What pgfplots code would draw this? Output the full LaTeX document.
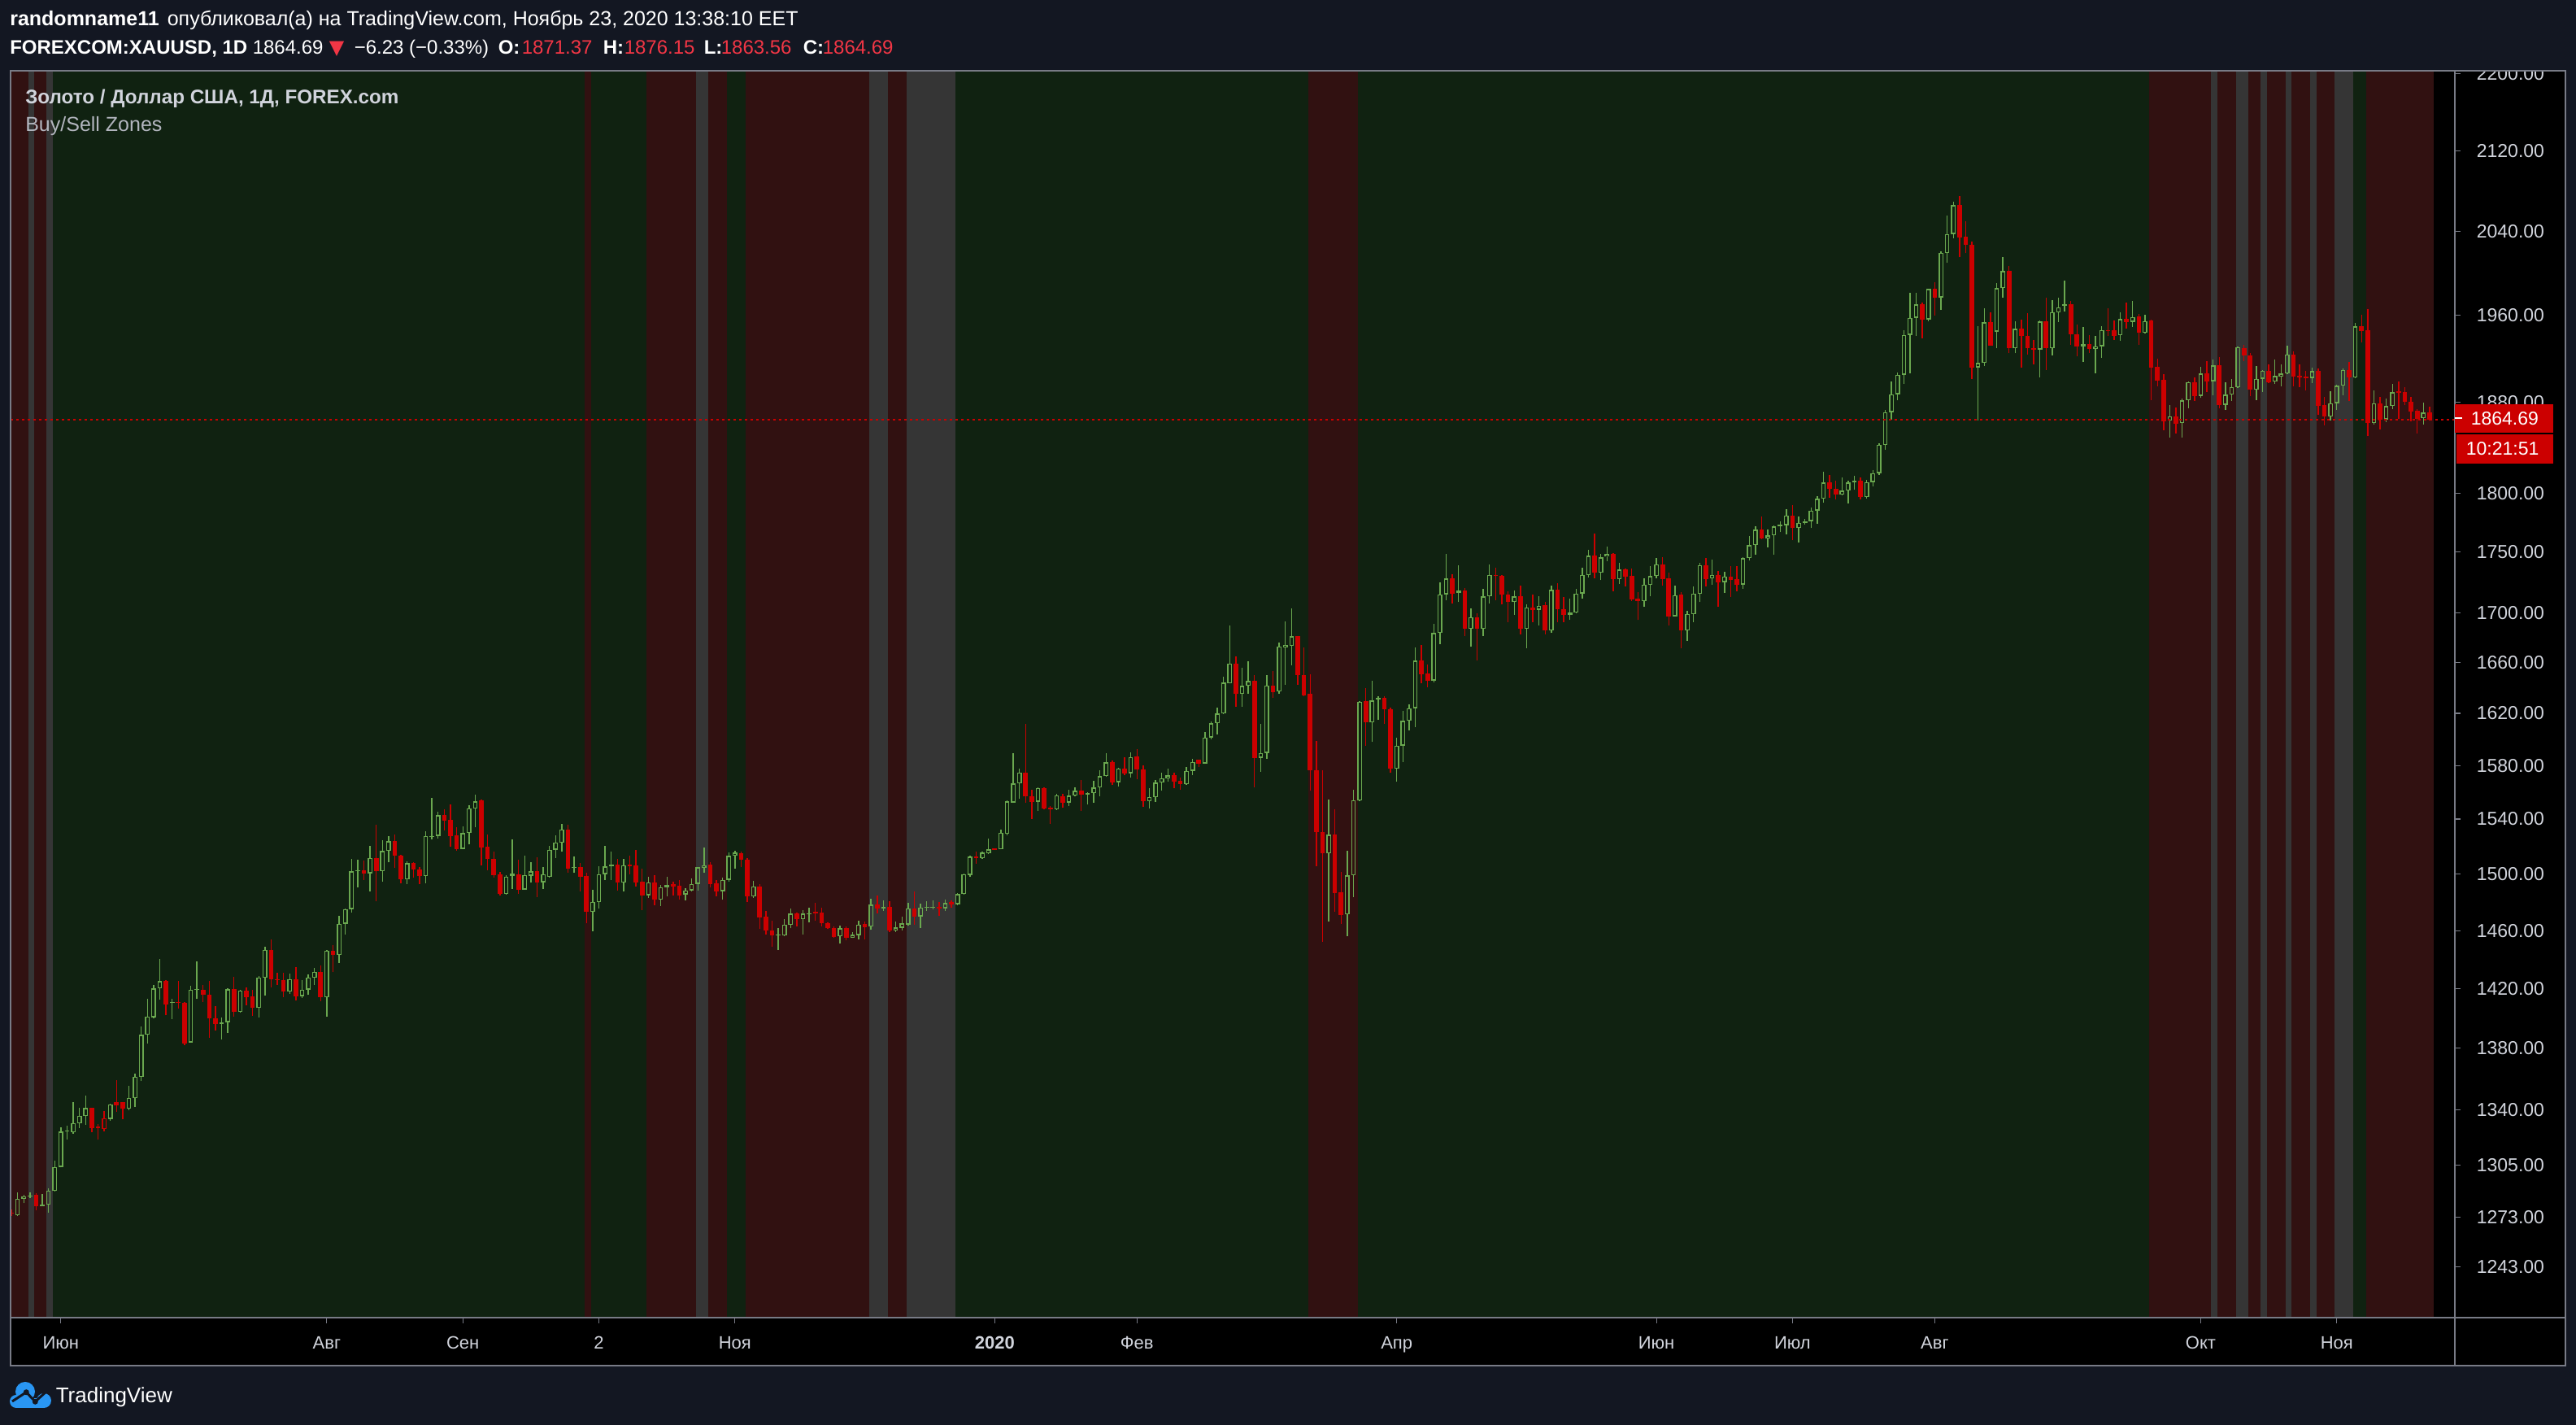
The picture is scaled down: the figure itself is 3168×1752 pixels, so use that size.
\documentclass[border=0pt]{standalone}
\usepackage{fontspec}
\setmainfont{Liberation Sans}
\newfontfamily\dejavu{DejaVu Sans}
\usepackage{pgfplots}
\usepackage{pgfplotstable}
\pgfplotsset{compat=1.18}
\definecolor{bgnavy}{RGB}{19,23,34}
\definecolor{zg}{RGB}{16,34,17}
\definecolor{zr}{RGB}{49,17,17}
\definecolor{zy}{RGB}{53,53,53}
\definecolor{cg}{RGB}{106,168,79}
\definecolor{cr}{RGB}{204,0,0}
\definecolor{frame}{RGB}{120,123,134}
\definecolor{txt}{RGB}{209,212,220}
\definecolor{txt2}{RGB}{178,181,190}
\definecolor{hred}{RGB}{242,54,69}
\definecolor{tvblue}{RGB}{41,150,243}

\pgfplotstableread{
i O H L C c z
0 1275.6 1277.6 1273.4 1274.9 0 1
1 1273.9 1288.0 1273.4 1284.1 1 1
2 1284.1 1286.3 1281.4 1285.6 1 1
3 1285.3 1288.0 1284.6 1286.0 1 2
4 1286.3 1287.7 1277.0 1279.3 0 1
5 1280.6 1286.8 1279.3 1279.6 1 1
6 1280.5 1290.3 1275.7 1289.0 1 2
7 1289.0 1307.8 1288.5 1303.8 1 0
8 1303.8 1328.9 1303.5 1326.1 1 0
9 1326.1 1329.8 1321.0 1326.6 1 0
10 1325.7 1345.1 1324.8 1331.3 1 0
11 1331.3 1341.0 1328.2 1336.0 1 0
12 1336.0 1349.0 1330.4 1341.0 1 0
13 1341.2 1341.5 1325.7 1328.5 0 0
14 1328.9 1330.7 1320.8 1328.2 0 0
15 1327.6 1339.4 1326.3 1334.7 0 0
16 1334.1 1344.0 1333.0 1343.4 1 0
17 1344.7 1359.4 1338.8 1342.8 0 0
18 1344.7 1345.0 1333.7 1340.6 0 0
19 1340.6 1355.6 1339.7 1347.5 1 0
20 1347.5 1363.5 1342.0 1361.2 1 0
21 1361.2 1394.6 1358.4 1389.0 1 0
22 1389.0 1412.9 1383.2 1401.1 1 0
23 1400.7 1422.7 1400.0 1420.2 1 0
24 1420.2 1440.5 1412.3 1425.1 1 0
25 1425.1 1425.5 1402.0 1409.4 0 0
26 1410.1 1413.3 1399.4 1410.6 1 0
27 1411.0 1425.1 1406.2 1410.2 0 0
28 1410.5 1410.6 1382.2 1383.2 0 0
29 1383.7 1421.9 1383.7 1419.2 1 0
30 1419.0 1438.6 1412.9 1419.4 1 0
31 1419.2 1422.5 1410.8 1415.7 0 0
32 1415.9 1425.1 1387.0 1399.7 0 0
33 1400.1 1408.3 1391.9 1396.2 0 0
34 1396.2 1400.7 1386.0 1397.0 1 0
35 1397.4 1420.0 1390.4 1419.6 1 0
36 1419.6 1428.1 1401.2 1404.1 0 0
37 1404.1 1419.0 1403.5 1418.8 1 0
38 1418.8 1420.8 1408.5 1414.3 0 0
39 1414.9 1419.2 1401.6 1406.9 0 0
40 1406.9 1428.7 1400.7 1427.5 1 0
41 1427.5 1448.7 1415.1 1446.7 1 0
42 1446.7 1454.0 1420.8 1426.1 0 0
43 1426.5 1430.7 1422.7 1425.7 0 0
44 1425.9 1430.7 1414.3 1417.8 0 0
45 1417.8 1430.1 1416.6 1426.3 1 0
46 1426.3 1434.7 1411.8 1414.9 0 0
47 1414.9 1425.9 1413.7 1419.2 1 0
48 1419.2 1429.9 1415.7 1427.5 1 0
49 1427.5 1434.1 1422.7 1431.5 1 0
50 1431.5 1435.5 1411.4 1414.1 0 0
51 1414.1 1446.7 1401.1 1446.1 1 0
52 1445.9 1449.9 1431.1 1443.1 0 0
53 1443.1 1470.4 1437.5 1464.7 1 0
54 1464.7 1475.5 1457.2 1475.1 1 0
55 1475.1 1511.2 1472.9 1502.0 1 0
56 1502.0 1510.4 1490.3 1502.6 1 0
57 1502.8 1509.7 1495.7 1500.7 0 0
58 1500.7 1520.4 1487.8 1511.8 1 0
59 1511.8 1535.8 1480.4 1502.0 0 0
60 1502.0 1524.5 1494.5 1516.7 1 0
61 1516.7 1527.7 1508.3 1523.9 1 0
62 1523.9 1528.7 1504.5 1513.3 0 0
63 1513.3 1514.0 1493.6 1496.1 0 0
64 1496.1 1509.1 1493.0 1507.8 1 0
65 1507.8 1508.5 1497.2 1503.2 0 0
66 1503.2 1505.1 1493.0 1498.6 0 0
67 1498.6 1530.9 1493.6 1527.7 1 0
68 1526.8 1555.9 1525.3 1527.6 1 0
69 1527.6 1545.4 1525.8 1543.0 1 0
70 1543.0 1547.4 1531.8 1539.0 0 0
71 1539.4 1551.0 1519.9 1527.6 0 0
72 1527.8 1534.0 1516.9 1518.1 0 0
73 1518.1 1534.8 1518.0 1529.8 1 0
74 1529.8 1550.4 1521.5 1547.8 1 0
75 1547.8 1557.9 1534.0 1553.3 1 0
76 1553.9 1554.5 1506.3 1519.3 0 0
77 1519.9 1528.8 1502.9 1510.7 0 0
78 1511.1 1516.4 1497.4 1499.3 0 0
79 1499.9 1501.7 1485.0 1485.8 0 0
80 1485.8 1499.0 1485.4 1498.3 1 0
81 1500.3 1525.1 1489.6 1498.4 1 0
82 1499.9 1510.1 1486.0 1488.9 0 0
83 1488.9 1513.2 1488.9 1499.3 1 0
84 1498.9 1508.4 1493.7 1501.9 1 0
85 1502.3 1512.4 1483.5 1494.1 0 0
86 1494.1 1505.3 1489.3 1499.9 1 0
87 1497.9 1520.5 1497.5 1517.5 1 0
88 1517.5 1527.8 1511.7 1522.9 1 0
89 1522.5 1536.4 1516.0 1532.4 1 0
90 1532.4 1536.0 1500.9 1504.2 0 0
91 1504.4 1512.8 1500.9 1505.2 1 0
92 1505.2 1507.8 1487.4 1498.3 0 0
93 1498.9 1500.9 1464.9 1473.0 0 1
94 1473.0 1488.5 1459.7 1480.1 1 0
95 1480.1 1505.9 1475.2 1499.9 1 0
96 1499.9 1520.5 1496.0 1505.5 1 0
97 1505.5 1516.2 1496.0 1506.9 1 0
98 1506.9 1510.7 1488.3 1493.7 0 0
99 1493.7 1510.7 1487.4 1506.3 1 0
100 1506.7 1513.2 1499.9 1505.9 0 0
101 1506.3 1517.5 1491.2 1494.1 0 0
102 1494.7 1503.9 1474.4 1484.8 0 0
103 1484.8 1497.9 1483.1 1494.1 1 1
104 1494.1 1499.3 1477.8 1481.6 0 1
105 1481.6 1492.2 1477.4 1490.6 1 1
106 1490.6 1497.9 1483.9 1492.0 1 1
107 1492.6 1494.7 1484.8 1491.2 0 1
108 1491.6 1495.5 1482.0 1484.8 0 1
109 1485.4 1489.9 1481.0 1488.3 1 1
110 1488.3 1497.0 1487.9 1493.1 1 1
111 1493.1 1505.0 1488.3 1504.9 1 2
112 1504.3 1518.9 1501.3 1506.3 1 2
113 1506.5 1508.8 1490.2 1493.1 0 1
114 1493.5 1495.6 1483.9 1487.9 0 1
115 1487.9 1497.4 1481.6 1496.0 1 1
116 1496.0 1515.3 1494.4 1513.2 1 0
117 1513.2 1517.1 1503.9 1515.3 1 0
118 1515.1 1516.0 1504.9 1510.3 0 0
119 1510.5 1511.7 1480.1 1483.9 0 1
120 1483.9 1495.1 1483.1 1491.2 1 1
121 1491.2 1493.1 1461.0 1469.2 0 1
122 1469.5 1473.9 1457.3 1459.9 0 1
123 1460.2 1466.9 1448.7 1456.5 0 1
124 1456.5 1461.6 1446.4 1457.3 1 1
125 1456.5 1468.2 1456.0 1464.0 1 1
126 1464.0 1475.4 1461.6 1472.0 1 1
127 1472.0 1472.5 1462.9 1467.8 0 1
128 1467.8 1474.3 1457.3 1472.0 1 1
129 1471.2 1475.8 1465.7 1472.2 1 1
130 1473.0 1479.3 1466.7 1471.8 0 1
131 1472.4 1475.8 1462.9 1465.0 0 1
132 1465.0 1465.5 1461.0 1461.6 0 1
133 1462.0 1463.0 1454.7 1455.6 0 1
134 1456.0 1463.5 1450.7 1461.6 1 1
135 1462.0 1463.0 1453.0 1455.0 0 1
136 1455.0 1459.0 1454.8 1457.0 1 1
137 1456.7 1467.0 1453.8 1464.2 1 1
138 1464.6 1466.1 1453.8 1462.3 0 1
139 1462.7 1482.3 1460.4 1478.1 1 2
140 1478.1 1484.6 1471.8 1475.2 0 2
141 1475.2 1481.3 1473.7 1476.5 1 2
142 1476.5 1480.8 1458.9 1460.0 0 1
143 1460.0 1466.1 1458.9 1462.3 1 1
144 1462.0 1469.9 1460.0 1465.1 1 1
145 1464.2 1479.4 1463.3 1475.6 1 2
146 1475.6 1487.5 1464.2 1469.9 0 2
147 1469.9 1478.9 1461.9 1476.0 1 2
148 1476.0 1480.8 1473.7 1476.6 1 2
149 1476.0 1481.0 1475.0 1476.8 1 2
150 1476.2 1479.9 1470.3 1475.6 0 2
151 1475.6 1481.9 1473.7 1479.4 1 2
152 1479.8 1481.3 1476.0 1478.5 0 2
153 1478.5 1486.5 1478.0 1485.6 1 0
154 1485.6 1500.7 1485.2 1499.8 1 0
155 1499.3 1513.5 1497.9 1512.5 1 0
156 1512.5 1516.4 1507.6 1511.3 0 0
157 1511.3 1516.4 1511.0 1515.4 1 0
158 1514.8 1525.9 1514.5 1518.0 1 0
159 1518.4 1518.8 1517.2 1517.4 0 0
160 1518.0 1532.3 1517.8 1529.9 1 0
161 1529.3 1553.9 1528.3 1553.3 1 0
162 1552.3 1589.4 1552.0 1566.4 1 0
163 1566.4 1577.7 1555.3 1574.6 1 0
164 1574.6 1611.8 1552.3 1556.7 0 0
165 1556.7 1561.8 1540.2 1552.9 0 0
166 1552.9 1563.8 1546.2 1563.0 1 0
167 1563.0 1563.4 1547.0 1547.8 0 0
168 1548.6 1549.6 1536.3 1547.0 0 0
169 1547.0 1558.7 1546.8 1557.7 1 0
170 1556.9 1558.7 1548.2 1552.3 0 0
171 1552.3 1561.8 1549.8 1557.3 1 0
172 1557.3 1563.4 1556.7 1561.0 1 0
173 1561.0 1569.1 1546.2 1558.3 0 0
174 1558.3 1559.8 1550.7 1559.6 1 0
175 1559.4 1568.5 1552.3 1563.4 1 0
176 1563.4 1576.2 1556.7 1571.9 1 0
177 1571.9 1589.4 1571.5 1582.4 1 0
178 1582.4 1583.8 1565.4 1567.5 0 0
179 1567.5 1578.3 1564.2 1577.7 1 0
180 1577.7 1586.3 1572.5 1574.2 0 0
181 1574.2 1590.0 1571.1 1586.5 1 0
182 1586.9 1592.5 1569.5 1576.7 0 0
183 1577.1 1580.1 1549.3 1553.3 0 0
184 1553.3 1562.8 1547.8 1556.3 1 0
185 1556.3 1569.1 1552.9 1567.1 1 0
186 1567.1 1574.6 1561.0 1570.6 1 0
187 1570.6 1577.5 1568.1 1572.5 1 0
188 1572.5 1574.6 1562.8 1568.1 0 0
189 1568.5 1571.0 1561.8 1566.0 0 0
190 1566.0 1578.7 1565.4 1576.0 1 0
191 1576.0 1584.9 1573.0 1582.8 1 0
192 1584.3 1584.6 1579.1 1581.6 0 0
193 1581.6 1605.6 1581.3 1601.4 1 0
194 1601.4 1613.9 1599.8 1612.2 1 0
195 1612.2 1624.4 1603.9 1619.8 1 0
196 1619.8 1648.6 1619.5 1643.9 1 0
197 1643.5 1689.4 1643.2 1659.1 1 0
198 1659.1 1664.5 1625.0 1635.0 0 0
199 1635.0 1655.6 1625.0 1641.4 1 0
200 1641.4 1660.6 1635.4 1645.2 1 0
201 1645.2 1649.9 1563.4 1585.9 0 0
202 1585.9 1611.8 1575.4 1589.4 1 0
203 1589.6 1649.9 1585.3 1641.5 1 0
204 1641.5 1653.0 1632.3 1636.8 0 0
205 1636.9 1675.4 1635.5 1672.5 1 0
206 1672.0 1693.0 1642.5 1673.9 1 0
207 1673.3 1703.6 1657.7 1680.8 1 0
208 1680.8 1681.3 1642.0 1650.0 0 0
209 1650.0 1671.8 1633.2 1633.7 0 0
210 1635.1 1650.7 1561.0 1576.5 0 1
211 1576.5 1598.9 1505.6 1530.3 0 1
212 1530.3 1576.5 1452.3 1514.8 0 1
213 1514.8 1554.7 1466.3 1528.6 1 1
214 1528.6 1547.3 1473.4 1486.5 0 1
215 1487.1 1501.4 1464.6 1470.9 0 1
216 1471.3 1517.0 1455.9 1499.2 1 1
217 1499.2 1562.0 1483.4 1553.9 1 1
218 1553.9 1629.5 1553.2 1629.1 1 0
219 1629.5 1639.6 1594.9 1613.0 0 0
220 1613.0 1645.3 1597.8 1630.0 1 0
221 1630.5 1633.2 1614.9 1632.0 1 0
222 1632.1 1633.2 1612.1 1623.3 0 0
223 1623.3 1624.4 1574.3 1577.6 0 0
224 1577.6 1601.3 1567.6 1595.2 1 0
225 1595.2 1621.7 1582.8 1614.1 1 0
226 1614.1 1626.8 1606.9 1624.0 1 0
227 1624.0 1671.8 1609.6 1661.2 1 0
228 1661.7 1673.7 1643.3 1650.7 0 0
229 1651.4 1658.2 1640.2 1645.5 0 0
230 1645.5 1690.9 1644.1 1683.4 1 0
231 1683.4 1724.8 1674.9 1715.0 1 0
232 1715.0 1748.5 1710.1 1728.0 1 0
233 1728.0 1731.6 1707.7 1715.7 0 0
234 1716.2 1739.1 1708.4 1717.9 1 0
235 1717.9 1720.3 1680.8 1686.7 0 0
236 1686.7 1703.6 1672.2 1696.4 1 0
237 1696.4 1699.3 1661.2 1686.7 0 0
238 1686.7 1719.1 1680.8 1713.3 1 0
239 1713.3 1739.3 1707.7 1730.8 1 0
240 1730.8 1736.9 1710.1 1729.9 0 0
241 1730.3 1730.6 1706.5 1714.5 0 0
242 1715.0 1717.4 1692.1 1708.4 0 0
243 1708.4 1718.1 1698.1 1713.3 1 0
244 1713.3 1722.3 1682.5 1686.7 0 0
245 1686.7 1706.5 1671.2 1704.1 1 0
246 1704.1 1715.0 1692.1 1702.1 0 0
247 1702.4 1713.3 1689.7 1705.8 1 0
248 1706.0 1709.0 1682.5 1685.3 0 0
249 1685.3 1722.3 1683.7 1718.6 1 0
250 1718.6 1724.0 1692.1 1702.5 0 0
251 1702.5 1712.6 1692.1 1698.1 0 0
252 1698.1 1711.4 1694.0 1699.8 1 0
253 1699.8 1719.1 1699.3 1715.7 1 0
254 1715.7 1736.9 1711.4 1730.8 1 0
255 1730.8 1751.8 1728.8 1746.8 1 0
256 1746.8 1765.4 1727.9 1732.8 0 0
257 1732.8 1748.5 1726.5 1745.6 1 0
258 1746.1 1754.7 1742.6 1748.1 1 0
259 1748.5 1748.8 1717.4 1727.2 0 0
260 1727.2 1741.1 1723.6 1735.3 1 0
261 1735.3 1736.3 1721.2 1729.6 0 0
262 1730.1 1736.3 1709.4 1710.9 0 0
263 1711.4 1716.7 1694.0 1709.4 0 0
264 1709.4 1728.4 1704.6 1722.8 1 0
265 1722.8 1738.1 1713.3 1730.1 1 0
266 1730.1 1744.8 1727.9 1739.9 1 0
267 1739.9 1745.6 1722.3 1727.7 0 0
268 1727.9 1732.8 1689.2 1696.9 0 0
269 1696.9 1721.9 1696.5 1714.3 1 0
270 1715.0 1716.7 1671.2 1685.3 0 0
271 1685.3 1701.2 1677.3 1698.8 1 0
272 1698.8 1721.7 1692.5 1715.5 1 0
273 1715.5 1741.1 1708.5 1739.2 1 0
274 1739.0 1745.0 1721.4 1727.6 0 0
275 1728.2 1743.6 1722.7 1730.8 1 0
276 1730.8 1734.3 1704.4 1725.0 0 0
277 1725.0 1733.8 1716.4 1729.7 1 0
278 1729.7 1738.3 1713.0 1727.1 0 0
279 1727.6 1738.3 1717.4 1723.0 0 0
280 1723.0 1745.8 1719.5 1745.0 1 0
281 1745.0 1763.4 1742.8 1755.7 1 0
282 1755.7 1772.0 1747.6 1768.7 1 0
283 1768.7 1780.2 1760.8 1761.2 0 0
284 1761.2 1768.7 1754.3 1763.9 1 0
285 1763.9 1772.6 1747.6 1771.5 1 0
286 1772.0 1776.1 1766.6 1773.4 1 0
287 1772.8 1786.5 1764.7 1781.0 1 0
288 1781.0 1789.8 1759.8 1770.1 0 0
289 1770.1 1780.2 1757.9 1774.8 1 0
290 1774.8 1778.0 1773.4 1776.1 1 0
291 1776.1 1787.9 1770.1 1785.1 1 0
292 1785.1 1797.6 1774.0 1795.3 1 0
293 1795.3 1818.4 1791.8 1809.2 1 0
294 1809.2 1816.1 1796.2 1803.6 0 0
295 1803.6 1810.6 1794.5 1798.9 0 0
296 1798.9 1813.4 1798.0 1802.2 1 0
297 1802.2 1811.1 1791.3 1809.2 1 0
298 1809.2 1814.8 1802.8 1810.6 1 0
299 1810.6 1813.4 1794.8 1796.7 0 0
300 1796.7 1811.9 1795.6 1809.7 1 0
301 1809.7 1820.4 1805.6 1817.5 1 0
302 1817.5 1843.5 1816.1 1842.1 1 0
303 1842.1 1873.0 1838.1 1871.5 1 0
304 1871.5 1899.0 1864.3 1887.4 1 0
305 1887.4 1907.3 1881.6 1905.0 1 0
306 1905.0 1946.4 1896.8 1941.9 1 0
307 1941.9 1981.2 1906.4 1957.5 1 0
308 1957.5 1981.2 1941.0 1970.5 1 0
309 1970.5 1972.0 1938.9 1956.0 0 0
310 1956.0 1985.0 1954.0 1984.8 1 0
311 1984.8 1991.3 1960.0 1976.6 0 0
312 1976.6 2020.5 1965.1 2019.2 1 0
313 2019.2 2055.7 2009.4 2037.7 1 0
314 2037.7 2069.6 2033.7 2066.0 1 0
315 2066.0 2074.8 2015.0 2034.3 0 0
316 2035.2 2050.3 2018.9 2026.8 0 0
317 2027.4 2030.6 1901.3 1911.7 0 0
318 1911.7 1950.0 1863.8 1915.8 1 0
319 1915.8 1966.6 1912.9 1953.3 1 0
320 1953.3 1962.7 1932.0 1932.2 0 0
321 1944.9 1990.4 1929.2 1985.8 1 0
322 1985.8 2015.6 1976.6 2001.7 1 0
323 2002.0 2006.6 1924.7 1929.2 0 0
324 1929.2 1954.8 1924.7 1947.3 1 0
325 1947.3 1956.0 1911.4 1940.4 0 0
326 1940.4 1962.1 1923.5 1929.2 0 0
327 1929.5 1937.5 1914.4 1928.3 0 0
328 1928.3 1955.4 1902.5 1954.5 1 0
329 1954.5 1976.6 1909.4 1929.2 0 0
330 1929.2 1974.2 1923.2 1963.0 1 0
331 1963.0 1976.6 1953.9 1967.5 1 0
332 1969.2 1992.8 1964.1 1970.5 1 0
333 1970.5 1973.5 1932.5 1942.8 0 0
334 1942.8 1951.5 1921.7 1930.9 0 0
335 1930.9 1949.4 1916.8 1933.0 1 0
336 1933.0 1941.3 1925.0 1928.6 0 0
337 1928.6 1940.4 1906.4 1931.5 1 0
338 1931.5 1950.3 1920.3 1946.4 1 0
339 1946.6 1966.7 1940.9 1945.3 0 0
340 1945.9 1955.1 1937.4 1940.9 0 0
341 1941.1 1962.8 1936.4 1956.5 1 0
342 1956.7 1972.1 1947.6 1954.2 0 0
343 1953.9 1973.6 1949.4 1958.7 1 0
344 1959.0 1961.3 1932.7 1943.5 0 0
345 1943.5 1960.5 1943.0 1954.9 1 0
346 1955.6 1956.0 1882.3 1911.8 0 1
347 1912.3 1919.7 1894.5 1899.9 0 1
348 1900.4 1905.6 1855.0 1863.3 0 1
349 1863.5 1877.9 1848.8 1867.6 1 1
350 1867.6 1875.4 1852.4 1861.1 0 1
351 1861.6 1883.5 1848.8 1881.8 1 1
352 1881.8 1898.9 1875.0 1898.2 1 1
353 1898.2 1902.6 1881.5 1885.9 0 1
354 1885.9 1912.5 1884.2 1906.1 1 1
355 1906.1 1917.5 1889.6 1898.9 0 1
356 1899.1 1919.0 1886.7 1913.5 1 2
357 1913.5 1921.0 1875.0 1877.9 0 1
358 1877.9 1898.2 1873.0 1886.9 1 1
359 1886.9 1901.1 1881.5 1893.8 1 1
360 1893.8 1931.0 1893.0 1930.4 1 2
361 1929.9 1932.9 1918.0 1922.4 0 2
362 1922.6 1925.4 1885.9 1891.3 0 1
363 1891.3 1913.0 1882.3 1901.6 1 1
364 1901.6 1909.3 1889.6 1908.6 1 2
365 1908.6 1914.7 1897.4 1898.2 0 1
366 1898.7 1919.2 1896.9 1903.9 1 1
367 1903.6 1914.7 1894.5 1906.1 1 1
368 1906.1 1931.7 1905.6 1923.9 1 2
369 1923.9 1926.6 1894.5 1903.6 0 1
370 1904.1 1914.7 1894.0 1903.1 0 1
371 1903.1 1908.6 1890.8 1902.1 0 1
372 1902.3 1911.3 1897.6 1908.1 1 2
373 1908.1 1910.6 1868.8 1876.9 0 1
374 1877.4 1884.7 1859.6 1867.6 0 1
375 1867.6 1890.1 1864.0 1879.1 1 1
376 1879.1 1895.7 1873.2 1895.2 1 2
377 1895.2 1911.1 1886.5 1909.3 1 2
378 1909.3 1916.7 1881.1 1903.1 0 2
379 1902.6 1953.1 1901.9 1949.8 1 0
380 1949.8 1960.8 1934.9 1945.1 0 0
381 1946.1 1965.9 1850.0 1861.6 0 1
382 1861.6 1890.8 1860.4 1879.1 1 1
383 1879.1 1885.2 1856.0 1864.7 0 1
384 1864.7 1883.9 1862.3 1876.7 1 1
385 1876.7 1896.5 1873.7 1889.1 1 1
386 1889.6 1899.0 1865.2 1888.6 0 1
387 1889.1 1893.8 1877.4 1880.3 0 1
388 1880.3 1884.7 1863.3 1872.0 0 1
389 1872.5 1874.2 1852.4 1865.2 0 1
390 1865.7 1879.8 1860.4 1870.8 1 1
391 1871.37 1876.15 1863.56 1864.69 0 1
}\candles

\newcommand{\zone}[3]{\addplot[draw=none,fill=#3,forget plot] coordinates {(#1,1200) (#1,2300) (#2,2300) (#2,1200)};}
\pgfplotsset{
  cbar/.style={draw=none, mark=none, forget plot,
    error bars/y dir=plus, error bars/y explicit, error bars/error mark=none},
}
\newcommand{\hfont}{\fontsize{6pt}{7pt}\selectfont}

\begin{document}
\begin{tikzpicture}[x=0.25pt,y=0.25pt]
\useasboundingbox (0,0) rectangle (3168,1752);
\fill[bgnavy] (0,0) rectangle (3168,1752);
\fill[black] (13,73) rectangle (3155,1665);
\begin{axis}[
  at={(3.25pt,33pt)}, anchor=south west,
  scale only axis, width=751.5pt, height=383.25pt,
  xmin=-0.13, xmax=395.1,
  ymode=log, ymin=1213.2, ymax=2203.4,
  axis background/.style={fill=black},
  axis on top,
  axis line style={draw=frame, line width=0.5pt},
  xtick={8,51,73,95,117,159,182,224,266,288,311,354,376},
  xticklabels={Июн,Авг,Сен,2,Ноя,\textbf{2020},Фев,Апр,Июн,Июл,Авг,Окт,Ноя},
  ytick={1243,1273,1305,1340,1380,1420,1460,1500,1540,1580,1620,1660,1700,1750,1800,1880,1960,2040,2120,2200},
  yticklabels={1243.00,1273.00,1305.00,1340.00,1380.00,1420.00,1460.00,1500.00,1540.00,1580.00,1620.00,1660.00,1700.00,1750.00,1800.00,1880.00,1960.00,2040.00,2120.00,2200.00},
  xtick pos=bottom, ytick pos=right, yticklabel pos=right,
  tick align=outside, major tick length=1.75pt,
  yminorticks=false, xminorticks=false,
  tick style={draw=frame, line width=0.3pt},
  x tick label style={font=\fontsize{5.5pt}{6.5pt}\selectfont, text=txt, anchor=base, inner sep=0pt, yshift=-8pt},
  y tick label style={font=\fontsize{5.75pt}{6.75pt}\selectfont, text=txt, anchor=west, inner sep=0pt, xshift=4.75pt},
  clip=true,
]
% zones
\zone{-0.3}{391.7}{zg}
\zone{-0.3}{2.7}{zr}
\zone{3.7}{5.7}{zr}
\zone{92.7}{93.7}{zr}
\zone{102.7}{110.7}{zr}
\zone{112.7}{115.7}{zr}
\zone{118.7}{138.7}{zr}
\zone{141.7}{144.7}{zr}
\zone{209.7}{217.7}{zr}
\zone{345.7}{355.7}{zr}
\zone{356.7}{359.7}{zr}
\zone{361.7}{363.7}{zr}
\zone{364.7}{367.7}{zr}
\zone{368.7}{371.7}{zr}
\zone{372.7}{375.7}{zr}
\zone{380.7}{391.7}{zr}
\zone{2.7}{3.7}{zy}
\zone{5.7}{6.7}{zy}
\zone{110.7}{112.7}{zy}
\zone{138.7}{141.7}{zy}
\zone{144.7}{152.7}{zy}
\zone{355.7}{356.7}{zy}
\zone{359.7}{361.7}{zy}
\zone{363.7}{364.7}{zy}
\zone{367.7}{368.7}{zy}
\zone{371.7}{372.7}{zy}
\zone{375.7}{378.7}{zy}
% wicks
\addplot[cbar, error bars/error bar style={draw=cg, line width=0.35pt},
  restrict expr to domain={\thisrow{c}}{0.5:1.5}]
  table[x=i, y=L, y error plus expr={\thisrow{H}-\thisrow{L}}]{\candles};
\addplot[cbar, error bars/error bar style={draw=cr, line width=0.35pt},
  restrict expr to domain={\thisrow{c}}{-0.5:0.5}]
  table[x=i, y=L, y error plus expr={\thisrow{H}-\thisrow{L}}]{\candles};
% bodies
\addplot[cbar, error bars/error bar style={draw=cg, line width=1.425pt},
  restrict expr to domain={\thisrow{c}}{0.5:1.5}]
  table[x=i, y expr={min(\thisrow{O},\thisrow{C})},
        y error plus expr={max(abs(\thisrow{C}-\thisrow{O}),0.0006*\thisrow{O})}]{\candles};
\addplot[cbar, error bars/error bar style={draw=cr, line width=1.425pt},
  restrict expr to domain={\thisrow{c}}{-0.5:0.5}]
  table[x=i, y expr={min(\thisrow{O},\thisrow{C})},
        y error plus expr={max(abs(\thisrow{C}-\thisrow{O}),0.0006*\thisrow{O})}]{\candles};
% hollow interiors
\addplot[cbar, error bars/error bar style={draw=zg, line width=0.75pt},
  restrict expr to domain={\thisrow{z}*10+(\thisrow{C}>\thisrow{O})}{0.5:1.5}]
  table[x=i, y expr={min(\thisrow{O},\thisrow{C})*1.00055},
        y error plus expr={max(max(\thisrow{O},\thisrow{C})/1.00055-min(\thisrow{O},\thisrow{C})*1.00055,0)}]{\candles};
\addplot[cbar, error bars/error bar style={draw=zr, line width=0.75pt},
  restrict expr to domain={\thisrow{z}*10+(\thisrow{C}>\thisrow{O})}{10.5:11.5}]
  table[x=i, y expr={min(\thisrow{O},\thisrow{C})*1.00055},
        y error plus expr={max(max(\thisrow{O},\thisrow{C})/1.00055-min(\thisrow{O},\thisrow{C})*1.00055,0)}]{\candles};
\addplot[cbar, error bars/error bar style={draw=zy, line width=0.75pt},
  restrict expr to domain={\thisrow{z}*10+(\thisrow{C}>\thisrow{O})}{20.5:21.5}]
  table[x=i, y expr={min(\thisrow{O},\thisrow{C})*1.00055},
        y error plus expr={max(max(\thisrow{O},\thisrow{C})/1.00055-min(\thisrow{O},\thisrow{C})*1.00055,0)}]{\candles};
% last price line
\addplot[cr, line width=0.5pt, dash pattern=on 0.75pt off 1pt, forget plot]
  coordinates {(-0.13,1864.69) (395.1,1864.69)};
\end{axis}
% cover above frame, frame lines
\fill[bgnavy] (0,1666) rectangle (3168,1752);
\draw[frame, line width=0.5pt] (13,73) rectangle (3155,1665);
\draw[frame, line width=0.5pt] (3019,73) -- (3019,132) -- (3155,132);
% price labels
\fill[cr] (3019,1220) rectangle (3140,1255);
\draw[white, line width=0.5pt] (3019,1237.5) -- (3028,1237.5);
\node[text=white, inner sep=0pt, anchor=west, font=\fontsize{5.75pt}{6.75pt}\selectfont] at (3038,1237.5) {1864.69};
\fill[cr] (3021,1182) rectangle (3140,1217.5);
\node[text=white, inner sep=0pt, anchor=west, font=\fontsize{5.75pt}{6.75pt}\selectfont] at (3032,1200) {10:21:51};
% header line 1
\begin{scope}[every node/.style={anchor=base west, inner sep=0pt, text=white, font=\fontsize{6.25pt}{7pt}\selectfont}]
\node at (11.5,1720) {\textbf{randomname11}};
\node at (205,1720) {опубликовал(а) на TradingView.com, Ноябрь 23, 2020 13:38:10 EET};
\end{scope}
% header line 2
\begin{scope}[every node/.style={anchor=base west, inner sep=0pt, text=white, font=\hfont}]
\node at (11.5,1685) {\textbf{FOREXCOM:XAUUSD, 1D}};
\node at (310,1685) {1864.69};
\node[text=hred] at (404,1685) {\dejavu ▼};
\node at (435,1685) {−6.23 (−0.33\%)};
\node at (612,1685) {\textbf{O:}};
\node[text=hred] at (641,1685) {1871.37};
\node at (741,1685) {\textbf{H:}};
\node[text=hred] at (767,1685) {1876.15};
\node at (865,1685) {\textbf{L:}};
\node[text=hred] at (886,1685) {1863.56};
\node at (987,1685) {\textbf{C:}};
\node[text=hred] at (1011,1685) {1864.69};
\end{scope}
% legend
\node[anchor=base west, inner sep=0pt, text=txt, font=\fontsize{6.05pt}{7pt}\selectfont\bfseries] at (30.5,1624)
  {Золото / Доллар США, 1Д, FOREX.com};
\node[anchor=base west, inner sep=0pt, text=txt2, font=\fontsize{6.25pt}{7pt}\selectfont] at (30.5,1590)
  {Buy/Sell Zones};
% TradingView logo
\fill[tvblue] (31,41) circle (12);
\fill[tvblue] (20,29) circle (8);
\fill[tvblue] (54,30) circle (9);
\fill[tvblue] (20,21) rectangle (54,33);
\draw[bgnavy, line width=0.75pt, line join=round] (15,29) -- (32.3,40.3) -- (43.3,28.7) -- (58,42);
\fill[bgnavy] (32.3,40.3) circle (3.5);
\fill[bgnavy] (43.3,28.7) circle (3.5);
\node[anchor=base west, inner sep=0pt, text=white, font=\fontsize{6.5pt}{7.5pt}\selectfont] at (68,27) {TradingView};
\end{tikzpicture}
\end{document}
